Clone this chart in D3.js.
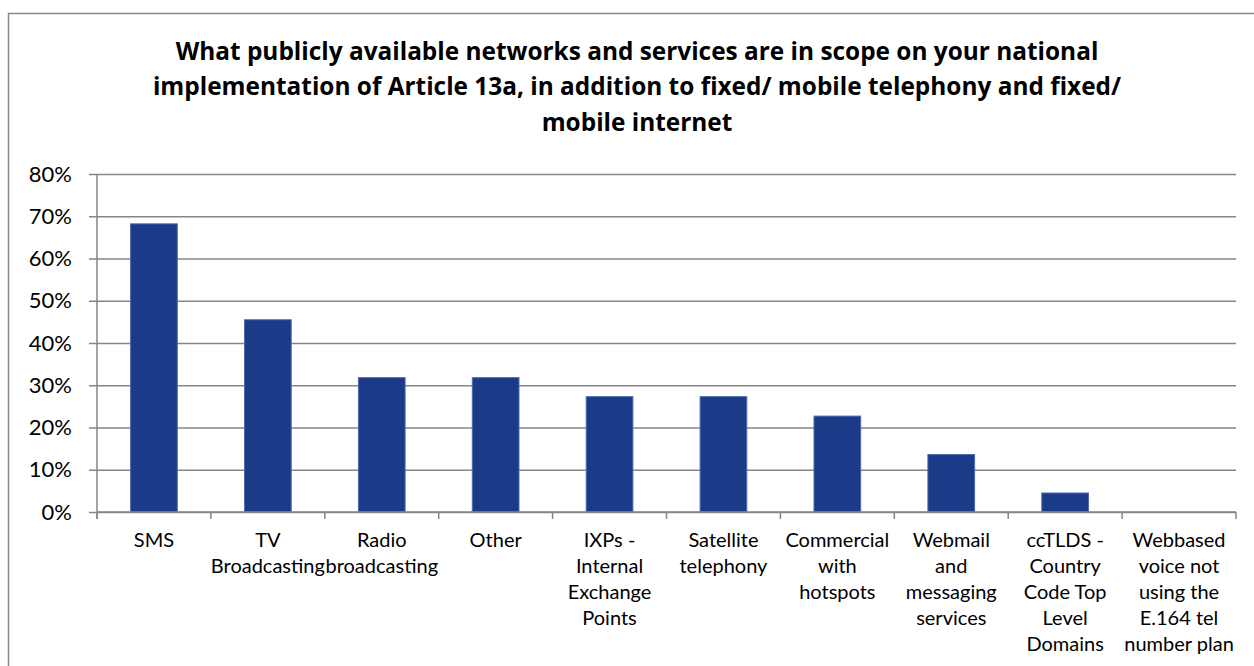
<!DOCTYPE html>
<html>
<head>
<meta charset="utf-8">
<script src="https://cdn.jsdelivr.net/npm/d3@7"></script>
<style>
  html, body { margin: 0; padding: 0; background: #fff; }
  svg { display: block; }
  text { font-family: Lato, "Open Sans", sans-serif; fill: #000; }
</style>
</head>
<body>
<svg id="chart" width="1254" height="666"></svg>
<script>
// Survey answers: share of respondents per service type
const categories = [
  ["SMS"],
  ["TV", "Broadcasting"],
  ["Radio", "broadcasting"],
  ["Other"],
  ["IXPs -", "Internal", "Exchange", "Points"],
  ["Satellite", "telephony"],
  ["Commercial", "with", "hotspots"],
  ["Webmail", "and", "messaging", "services"],
  ["ccTLDS -", "Country", "Code Top", "Level", "Domains"],
  ["Webbased", "voice not", "using the", "E.164 tel", "number plan"]
];
const values = [0.682, 0.455, 0.318, 0.318, 0.273, 0.273, 0.227, 0.136, 0.045, 0];
const yTicks = [0, 0.1, 0.2, 0.3, 0.4, 0.5, 0.6, 0.7, 0.8];
const titleLines = [
  "What publicly available networks and services are in scope on your national",
  "implementation of Article 13a, in addition to fixed/ mobile telephony and fixed/",
  "mobile internet"
];

const svg = d3.select("#chart");
const plot = { left: 97, right: 1236, top: 174, bottom: 512 };

// outer chart frame
svg.append("rect")
  .attr("x", 8.5).attr("y", 13.5)
  .attr("width", 1260).attr("height", 700)
  .attr("fill", "none").attr("stroke", "#8a8a8a").attr("stroke-width", 1.5);

// title
svg.append("g").selectAll("text").data(titleLines).join("text")
  .attr("x", 637).attr("y", (d, i) => 59.5 + i * 35.5)
  .attr("text-anchor", "middle")
  .style("font-family", "'Open Sans', Lato, sans-serif")
  .style("font-size", "24.4px").style("font-weight", "bold")
  .text(d => d);

const x = d3.scaleBand()
  .domain(d3.range(categories.length))
  .range([plot.left, plot.right])
  .paddingInner(0.59).paddingOuter(0.295);

const y = d3.scaleLinear().domain([0, 0.8]).range([plot.bottom, plot.top]);

// horizontal gridlines with left tick marks
const yAxis = d3.axisLeft(y).tickValues(yTicks)
  .tickFormat(d3.format(".0%"))
  .tickSize(-(plot.right - plot.left)).tickPadding(16);
const gy = svg.append("g").attr("transform", `translate(${plot.left},0)`).call(yAxis);
gy.select(".domain").remove();
gy.selectAll(".tick line")
  .attr("x1", -8)
  .attr("stroke", "#868686").attr("stroke-width", 1.5);
gy.selectAll(".tick text")
  .attr("x", -25)
  .style("font-size", "22px").style("font-family", "Lato, 'Open Sans', sans-serif")
  .attr("fill", "#000");

// vertical axis line
svg.append("line")
  .attr("x1", plot.left).attr("x2", plot.left)
  .attr("y1", plot.top).attr("y2", plot.bottom + 7)
  .attr("stroke", "#868686").attr("stroke-width", 1.5);

// bars
svg.append("g").selectAll("rect").data(values).join("rect")
  .attr("x", (d, i) => x(i))
  .attr("y", d => y(d))
  .attr("width", x.bandwidth())
  .attr("height", d => y(0) - y(d))
  .attr("fill", "#1b3a88")
  .attr("stroke", "#4f6bb0").attr("stroke-width", 1);

// category axis with boundary ticks
const step = x.step();
const bounds = d3.range(categories.length + 1).map(i => plot.left + i * step);
svg.append("line")
  .attr("x1", plot.left).attr("x2", plot.right)
  .attr("y1", plot.bottom).attr("y2", plot.bottom)
  .attr("stroke", "#868686").attr("stroke-width", 1.5);
svg.append("g").selectAll("line").data(bounds).join("line")
  .attr("x1", d => d).attr("x2", d => d)
  .attr("y1", plot.bottom).attr("y2", plot.bottom + 7)
  .attr("stroke", "#868686").attr("stroke-width", 1.5);

// wrapped category labels
const labels = svg.append("g").selectAll("text").data(categories).join("text")
  .attr("text-anchor", "middle")
  .attr("y", 547)
  .style("font-size", "20px");
labels.each(function(lines, i) {
  const cx = x(i) + x.bandwidth() / 2;
  d3.select(this).selectAll("tspan").data(lines).join("tspan")
    .attr("x", cx)
    .attr("dy", (d, j) => j === 0 ? 0 : 26)
    .text(d => d);
});
</script>
</body>
</html>
